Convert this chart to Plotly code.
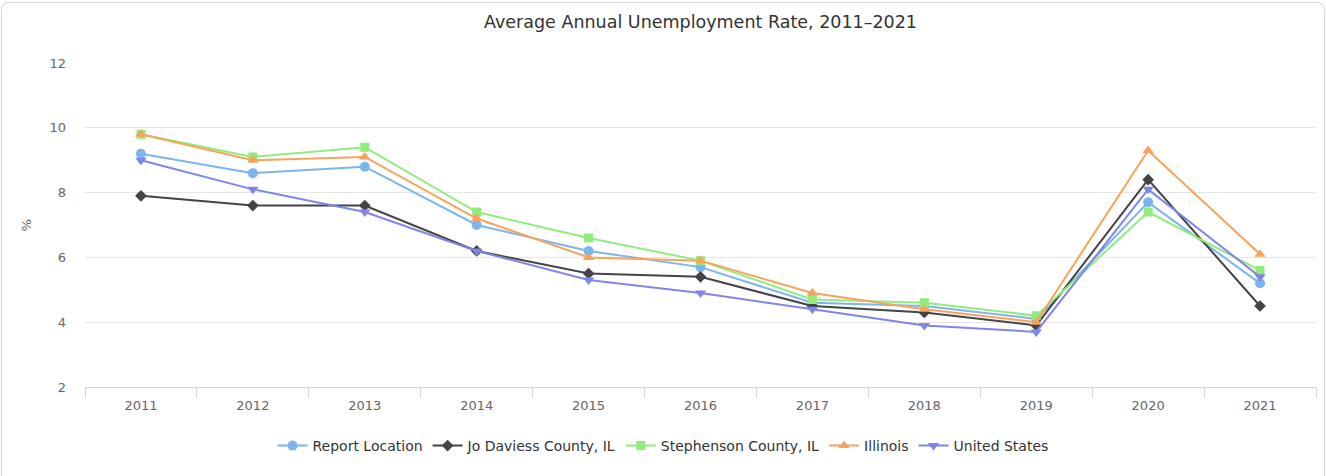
import plotly.graph_objects as go

years = ["2011", "2012", "2013", "2014", "2015", "2016", "2017", "2018", "2019", "2020", "2021"]

report_location = [9.2, 8.6, 8.8, 7.0, 6.2, 5.7, 4.6, 4.5, 4.1, 7.7, 5.2]
jo_daviess = [7.9, 7.6, 7.6, 6.2, 5.5, 5.4, 4.5, 4.3, 3.9, 8.4, 4.5]
stephenson = [9.8, 9.1, 9.4, 7.4, 6.6, 5.9, 4.7, 4.6, 4.2, 7.4, 5.6]
illinois = [9.8, 9.0, 9.1, 7.2, 6.0, 5.9, 4.9, 4.4, 4.0, 9.3, 6.1]
united_states = [9.0, 8.1, 7.4, 6.2, 5.3, 4.9, 4.4, 3.9, 3.7, 8.1, 5.4]

series = [
    ("Report Location", report_location, "#7cb5ec", "circle", 10),
    ("Jo Daviess County, IL", jo_daviess, "#434348", "diamond", 9),
    ("Stephenson County, IL", stephenson, "#90ed7d", "square", 9),
    ("Illinois", illinois, "#f7a35c", "triangle-up", 10),
    ("United States", united_states, "#8085e9", "triangle-down", 10),
]

W, H = 1326, 476
L, R, T, B = 85, 10, 63, 89
pw, ph = W - L - R, H - T - B

fig = go.Figure()
for name, vals, color, symbol, size in series:
    fig.add_trace(go.Scatter(
        x=years, y=vals, name=name, mode="lines+markers",
        line=dict(color=color, width=2),
        marker=dict(color=color, symbol=symbol, size=size, line=dict(width=0)),
    ))


def px_x(p):
    return (p - L) / pw


def px_y(p):
    return (H - B - p) / ph


# rounded outer frame
x0, x1, y0, y1, r = 1.5, 1324.5, 2.5, 480, 8
path = (
    f"M {px_x(x0 + r)} {px_y(y0)} L {px_x(x1 - r)} {px_y(y0)} "
    f"Q {px_x(x1)} {px_y(y0)} {px_x(x1)} {px_y(y0 + r)} "
    f"L {px_x(x1)} {px_y(y1)} L {px_x(x0)} {px_y(y1)} "
    f"L {px_x(x0)} {px_y(y0 + r)} Q {px_x(x0)} {px_y(y0)} {px_x(x0 + r)} {px_y(y0)} Z"
)
fig.add_shape(type="path", path=path, xref="paper", yref="paper",
              line=dict(color="#d8d8d8", width=1), layer="below")

font_family = "DejaVu Sans, sans-serif"

fig.update_layout(
    width=W, height=H,
    margin=dict(l=L, r=R, t=T, b=B),
    paper_bgcolor="white", plot_bgcolor="white",
    font=dict(family=font_family, color="#666666", size=12),
    title=dict(text="Average Annual Unemployment Rate, 2011–2021",
               x=0.5, xref="paper", xanchor="center",
               y=1 - 22 / H, yanchor="middle",
               font=dict(size=17.5, color="#333333", family=font_family)),
    showlegend=True,
    legend=dict(orientation="h", x=0.5, xanchor="center", xref="container",
                y=(H - 446) / H, yref="container", yanchor="middle",
                font=dict(size=14, color="#333333"),
                itemwidth=30, tracegroupgap=0),
    hovermode="x unified",
)

fig.update_xaxes(
    type="category", range=[-0.5, 10.5],
    showline=True, linecolor="#ccd6eb", linewidth=1,
    ticks="outside", tickson="boundaries", ticklen=10, tickcolor="#ccd6eb",
    ticklabelstandoff=6,
    showgrid=False, tickfont=dict(size=13, color="#666666"),
    zeroline=False,
)
fig.update_yaxes(
    range=[2, 12], tickvals=[2, 4, 6, 8, 10, 12],
    showgrid=True, gridcolor="#e6e6e6", gridwidth=1,
    zeroline=False, showline=False,
    ticks="", ticklabelstandoff=18,
    tickfont=dict(size=13, color="#666666"),
    title=dict(text="%", font=dict(size=13, color="#666666"), standoff=14),
)

fig.write_html("out.html")
